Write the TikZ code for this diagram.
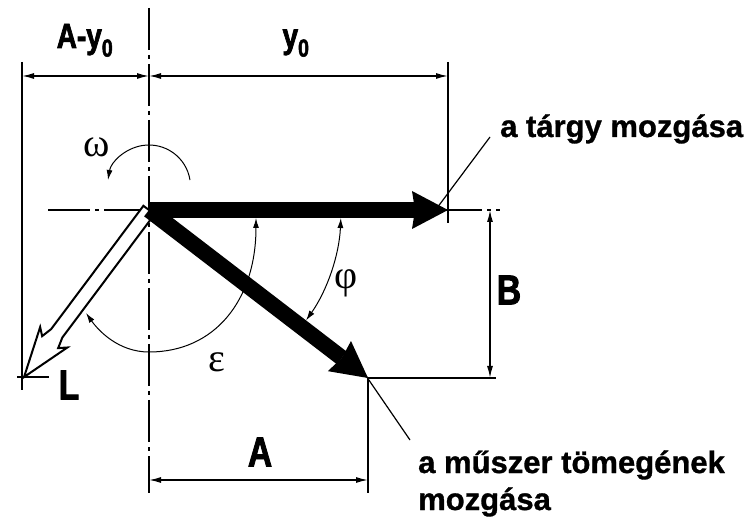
\documentclass[tikz,border=0pt]{standalone}
\usepackage{fontspec}
\setmainfont{Liberation Sans}
\newfontfamily\narrowfont{Liberation Sans Bold}[FakeStretch=0.8,FakeBold=2]
\newfontfamily\capfont{Liberation Sans Bold}[FakeBold=1]
\newfontfamily\greekfont{Liberation Serif}
\usetikzlibrary{arrows.meta,positioning}

\begin{document}
\begin{tikzpicture}[x=1pt,y=1pt,
    thin/.style={line width=1.2pt},
    axis/.style={line width=1.3pt,dash pattern=on 42pt off 5pt on 4pt off 5pt},
    dim/.style={line width=1.4pt,{Latex[length=12pt,width=6pt]}-{Latex[length=12pt,width=6pt]}},
    ang/.style={line width=1pt},
    vec/.style={line width=16pt,-{Stealth[length=36pt,width=38pt,inset=3pt,line width=0pt]}},
    lbl/.style={font=\narrowfont\fontsize{42}{42}\selectfont,inner sep=0pt},
    toplbl/.style={font=\narrowfont\fontsize{35}{35}\selectfont,inner sep=0pt,anchor=base},
    txt/.style={font=\capfont\fontsize{31}{37}\selectfont,inner sep=0pt,anchor=base west},
    greek/.style={font=\greekfont\fontsize{40}{40}\selectfont,inner sep=0pt},
    >=Latex]
  \useasboundingbox (0,0) rectangle (755,-526);
  % main points
  \coordinate (O) at (149,-210);
  \coordinate (T) at (448,-210);
  \coordinate (M) at (368,-378);
  \coordinate (Oc) at (149,-186.5);
  % axes and extension lines
  \coordinate (ax1) at (48,-210);
  \coordinate (ax2) at (500,-210);
  \coordinate (ay1) at (149,-8);
  \coordinate (ay2) at (149,-493);
  \draw[axis] (ax1) -- (ax2);
  \draw[axis] (ay1) -- (ay2);
  \coordinate (e1) at (22,-62);
  \coordinate (e2) at (22,-390);
  \coordinate (e3) at (448,-62);
  \coordinate (e4) at (448,-223);
  \coordinate (e5) at (496,-378);
  \coordinate (e6) at (368,-493);
  \coordinate (k1) at (17,-377);
  \coordinate (k2) at (49,-377);
  \draw[thin] (e1) -- (e2);
  \draw[thin] (k1) -- (k2);
  \draw[thin] (e3) -- (e4);
  \draw[thin] (M) -- (e5);
  \draw[thin] (M) -- (e6);
  % dimensions
  \coordinate (d1) at (22,-76);
  \coordinate (d2) at (149,-76);
  \coordinate (d3) at (448,-76);
  \coordinate (b1) at (490,-210);
  \coordinate (b2) at (490,-378);
  \coordinate (a1) at (149,-480);
  \coordinate (a2) at (368,-480);
  \draw[dim] (d1) -- (d2);
  \draw[dim] (d2) -- (d3);
  \draw[dim] (b1) -- (b2);
  \draw[dim] (a1) -- (a2);
  % angles
  \coordinate (eps1) at (256,-218);
  \coordinate (eps2) at (86,-313);
  \draw[ang,{Latex[length=10pt,width=6pt]}-{Latex[length=10pt,width=6pt]}] (eps1)
    .. controls (256,-300) and (215,-352) .. (149,-352)
    .. controls (118,-352) and (98,-330) .. (eps2);
  \draw[ang,{Latex[length=10pt,width=6pt]}-{Latex[length=10pt,width=6pt]}]
    ([shift={(-2.4:192)}]O) arc[start angle=-2.4,end angle=-35.1,radius=192];
  \draw[ang,-{Latex[length=10pt,width=6pt]}]
    ([shift={(9:41.5)}]Oc) arc[start angle=9,end angle=171,radius=41.5];
  % hollow L vector
  \begin{scope}[shift={(O)},rotate=233.2]
    \draw[line width=2pt,fill=white,line join=miter]
      (0,-7) -- (154,-7) -- (165,-10) -- (159,-17) -- (208.6,0)
      -- (159,17) -- (165,10) -- (154,7) -- (0,7) -- cycle;
  \end{scope}
  % black vectors
  \draw[vec] (O) -- (T);
  \draw[vec] (O) -- (M);
  % leaders
  \coordinate (tl1) at (437,-208);
  \coordinate (tl2) at (490,-137);
  \coordinate (ml1) at (362,-370);
  \coordinate (ml2) at (410,-440);
  \draw[thin] (tl1) -- (tl2);
  \draw[thin] (ml1) -- (ml2);
  % labels
  \node[toplbl] (aylab) at (85,-48) {A-y\textsubscript{0}};
  \node[toplbl] (ylab) at (296,-48) {y\textsubscript{0}};
  \node[lbl] (blab) at (509,-290) {B};
  \node[lbl] (alab) at (260,-452) {A};
  \node[lbl] (llab) at (69,-385) {L};
  \node[greek] (om) at (97,-147) {ω};
  \node[greek] (phi) at (346,-283) {φ};
  \node[greek] (eps) at (217,-362) {ε};
  \node[txt] (tlab) at (500,-137) {a tárgy mozgása};
  \node[txt] (mlab1) at (418,-473) {a műszer tömegének};
  \node[txt] (mlab2) at (418,-510) {mozgása};
\end{tikzpicture}
\end{document}
